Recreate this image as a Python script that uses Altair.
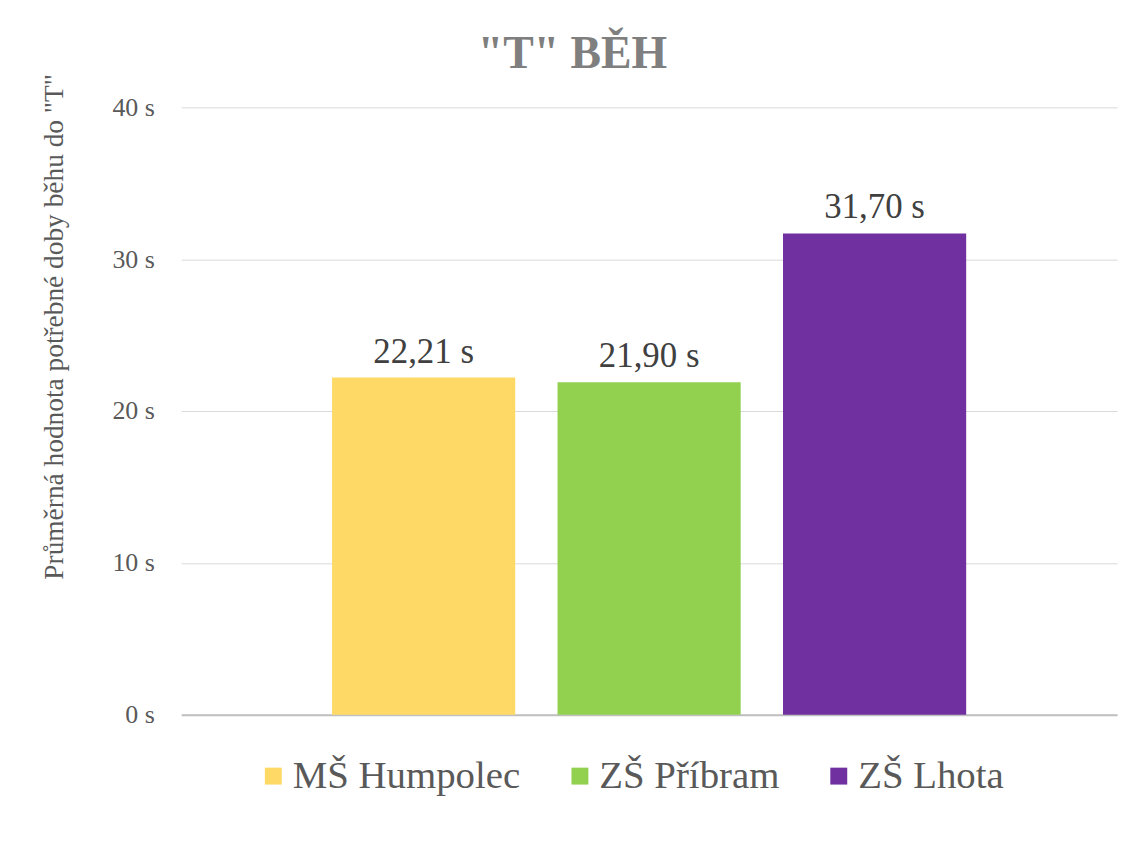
import altair as alt
import pandas as pd

schools = ["MŠ Humpolec", "ZŠ Příbram", "ZŠ Lhota"]
times = [22.21, 21.90, 31.70]
colors = ["#FFD966", "#92D050", "#7030A0"]
y_ticks = [0, 10, 20, 30, 40]

df = pd.DataFrame({"school": schools, "time": times})
df["label"] = [f"{v:.2f}".replace(".", ",") + " s" for v in times]

FONT = "Liberation Serif, Times New Roman, serif"

x_enc = alt.X(
    "school:N",
    sort=schools,
    scale=alt.Scale(paddingInner=0.1876, paddingOuter=0.669),
    axis=alt.Axis(labels=False, ticks=False, title=None, domainColor="#BFBFBF", domainWidth=2),
)
y_enc = alt.Y(
    "time:Q",
    scale=alt.Scale(domain=[0, 40], nice=False),
    axis=alt.Axis(
        values=y_ticks,
        labelExpr="datum.value + ' s'",
        domain=False,
        ticks=False,
        grid=True,
        gridColor="#D9D9D9",
        gridWidth=1,
        labelFont=FONT,
        labelFontSize=26,
        labelColor="#595959",
        labelPadding=27,
        title='Průměrná hodnota potřebné doby běhu do "T"',
        titleFont=FONT,
        titleFontSize=27.5,
        titleFontWeight="normal",
        titleColor="#595959",
        titleX=-127,
        titleY=220,
        titleAngle=-90,
        titleAlign="center",
        titleBaseline="middle",
    ),
)

bars = alt.Chart(df).mark_bar().encode(
    x=x_enc,
    y=y_enc,
    color=alt.Color(
        "school:N",
        sort=schools,
        scale=alt.Scale(domain=schools, range=colors),
        legend=alt.Legend(
            title=None,
            orient="none",
            direction="horizontal",
            legendX=73,
            legendY=652,
            symbolType="square",
            symbolSize=289,
            symbolStrokeWidth=0,
            labelFont=FONT,
            labelFontSize=39,
            labelColor="#595959",
            labelOffset=0,
            labelLimit=500,
            columnPadding=40,
        ),
    ),
)

labels = alt.Chart(df).mark_text(
    font=FONT, fontSize=35, color="#404040", baseline="alphabetic", dy=-15
).encode(
    x=alt.X("school:N", sort=schools),
    y=alt.Y("time:Q"),
    text="label:N",
)

chart = (
    alt.layer(bars, labels)
    .properties(
        width=940,
        height=610,
        padding={"left": 174, "top": 98, "right": 4, "bottom": 100},
        autosize=alt.AutoSizeParams(type="none"),
        title=alt.TitleParams(
            text='"T" BĚH',
            font=FONT,
            fontSize=46,
            fontWeight="bold",
            color="#7F7F7F",
            anchor="middle",
            dx=-77,
            dy=7,
            offset=2,
        ),
        background="white",
    )
    .configure_view(stroke=None)
)

chart.save("out.html", embed_options={"renderer": "svg", "actions": False})
